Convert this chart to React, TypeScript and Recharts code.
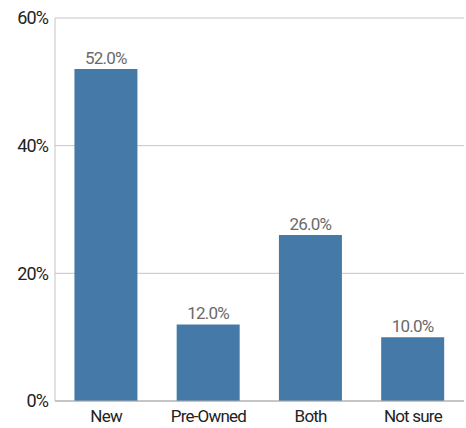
import { Bar, BarChart, CartesianGrid, LabelList, XAxis, YAxis } from "recharts";

const categories = ["New", "Pre-Owned", "Both", "Not sure"];
const shares = [52.0, 12.0, 26.0, 10.0];
const yTicks = [0, 20, 40, 60];

const data = categories.map((name, i) => ({ name, value: shares[i] }));

const FONT = "Roboto, 'Noto Sans', sans-serif";

export default function App() {
  return (
    <div style={{ position: "absolute", left: 0, top: 0, background: "#fff" }}>
      <BarChart
        width={466}
        height={428}
        data={data}
        margin={{ top: 18, right: 2, bottom: 0, left: 0 }}
        barCategoryGap="19%"
      >
        <CartesianGrid vertical={false} stroke="#c4c4c4" strokeWidth={1} />
        <XAxis
          dataKey="name"
          height={27}
          tickLine={false}
          tickSize={0}
          tickMargin={9}
          axisLine={{ stroke: "#aaa" }}
          tick={{ fill: "#222", fontSize: 17, fontFamily: FONT, letterSpacing: -0.8 }}
        />
        <YAxis
          width={55}
          domain={[0, 60]}
          ticks={yTicks}
          tickFormatter={(v: number) => `${v}%`}
          tickLine={false}
          tickSize={0}
          tickMargin={7}
          axisLine={{ stroke: "#c4c4c4" }}
          tick={{ fill: "#222", fontSize: 18, fontFamily: FONT, letterSpacing: -0.9 }}
        />
        <Bar dataKey="value" fill="#457aa8" isAnimationActive={false}>
          <LabelList
            dataKey="value"
            position="top"
            offset={5}
            formatter={(v: number) => `${v.toFixed(1)}%`}
            style={{ fill: "#6a6a6a", fontSize: 17, fontFamily: FONT, letterSpacing: -0.8 }}
          />
        </Bar>
      </BarChart>
    </div>
  );
}
